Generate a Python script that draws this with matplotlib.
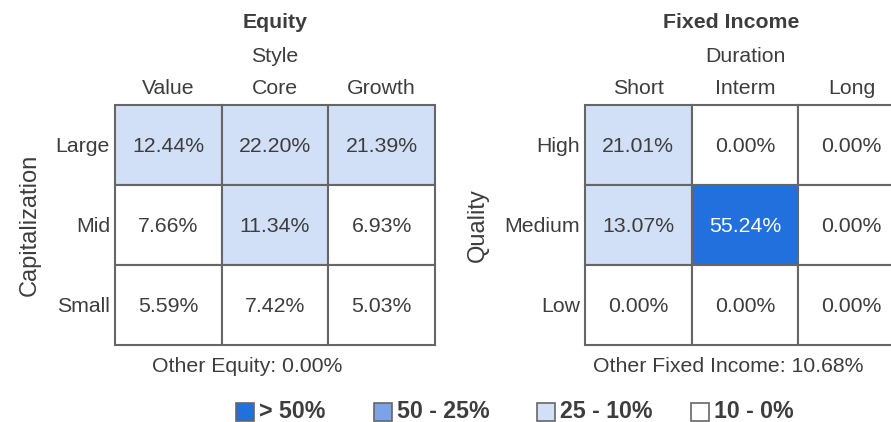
import matplotlib.pyplot as plt
from matplotlib.patches import Rectangle
import numpy as np

plt.rcParams['font.family'] = ['Liberation Sans', 'DejaVu Sans']

# data
eq_cols = ['Value', 'Core', 'Growth']
eq_rows = ['Large', 'Mid', 'Small']
eq_vals = np.array([[12.44, 22.20, 21.39],
                    [7.66, 11.34, 6.93],
                    [5.59, 7.42, 5.03]])
eq_other = 0.00

fi_cols = ['Short', 'Interm', 'Long']
fi_rows = ['High', 'Medium', 'Low']
fi_vals = np.array([[21.01, 0.00, 0.00],
                    [13.07, 55.24, 0.00],
                    [0.00, 0.00, 0.00]])
fi_other = 10.68

legend_labels = ['> 50%', '50 - 25%', '25 - 10%', '10 - 0%']
bins = [50, 25, 10, 0]
bin_colors = ['#2270dd', '#7ba4e8', '#d2e0f7', '#ffffff']

TXT = '#3d3d3d'
LINE = '#666666'
W, H = 891, 422
FS = 15.3
DY = 2  # small nudge so text sits like the reference


def cell_color(v):
    for b, c in zip(bins, bin_colors):
        if v > b:
            return c
    return bin_colors[-1]


fig = plt.figure(figsize=(W / 100, H / 100), dpi=100)
ax = fig.add_axes([0, 0, 1, 1])
ax.set_xlim(0, W)
ax.set_ylim(H, 0)
ax.axis('off')


def draw_grid(x0, vals, cols, rows, title, sub, ylab, ylab_x, title_x, other, other_x):
    y0, cw, ch = 105, 106.7, 80
    for i in range(3):
        for j in range(3):
            v = vals[i, j]
            ax.add_patch(Rectangle((x0 + j * cw, y0 + i * ch), cw, ch,
                                   facecolor=cell_color(v), edgecolor=LINE, lw=1.5))
            ax.text(x0 + (j + 0.5) * cw, y0 + (i + 0.5) * ch + DY, f'{v:.2f}%',
                    ha='center', va='center', fontsize=FS,
                    color='white' if v > 50 else TXT)
    for j, c in enumerate(cols):
        ax.text(x0 + (j + 0.5) * cw, 87 + DY, c, ha='center', va='center', fontsize=FS, color=TXT)
    for i, r in enumerate(rows):
        ax.text(x0 - 5, y0 + (i + 0.5) * ch + DY, r, ha='right', va='center', fontsize=FS, color=TXT)
    ax.text(title_x, 22 + 1, title, ha='center', va='center', fontsize=FS, weight='bold', color=TXT)
    ax.text(x0 + 1.5 * cw, 55 + DY, sub, ha='center', va='center', fontsize=FS, color=TXT)
    ax.text(ylab_x, y0 + 1.5 * ch, ylab, ha='center', va='center', rotation=90,
            fontsize=17, color=TXT)
    ax.text(other_x, 366 + 1, other, ha='center', va='center', fontsize=FS, color=TXT)


draw_grid(115, eq_vals, eq_cols, eq_rows, 'Equity', 'Style', 'Capitalization', 30, 275,
          f'Other Equity: {eq_other:.2f}%', 247)
draw_grid(585, fi_vals, fi_cols, fi_rows, 'Fixed Income', 'Duration', 'Quality', 478, 731,
          f'Other Fixed Income: {fi_other:.2f}%', 728)

# legend
leg_x = [236, 374, 537, 691]
for x, lab, c in zip(leg_x, legend_labels, bin_colors):
    ax.add_patch(Rectangle((x, 402.5), 18, 18, facecolor=c, edgecolor=LINE, lw=1.2))
    ax.text(x + 23, 411.5, lab, ha='left', va='center', fontsize=16.7, weight='bold', color=TXT)

fig.savefig('out.png', dpi=100)
